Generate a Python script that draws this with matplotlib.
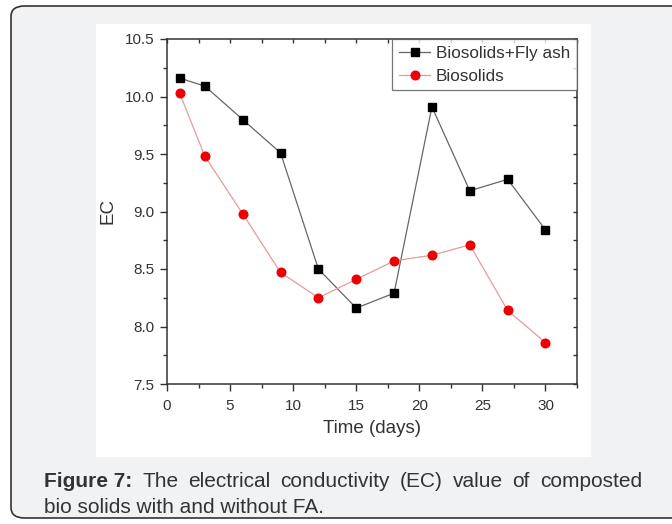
import matplotlib
matplotlib.use("Agg")
import matplotlib.pyplot as plt
from matplotlib.patches import FancyBboxPatch, Rectangle
from matplotlib.ticker import MultipleLocator

plt.rcParams['font.family'] = ['Liberation Sans', 'DejaVu Sans']

# datos
dias = [1, 3, 6, 9, 12, 15, 18, 21, 24, 27, 30]
ec_fly_ash = [10.16, 10.09, 9.80, 9.51, 8.50, 8.16, 8.29, 9.91, 9.18, 9.28, 8.84]
ec_biosolids = [10.03, 9.48, 8.98, 8.47, 8.25, 8.41, 8.57, 8.62, 8.71, 8.14, 7.86]
nombres = ["Biosolids+Fly ash", "Biosolids"]
linea1 = ["The", "electrical", "conductivity", "(EC)", "value", "of", "composted"]
linea2 = "bio solids with and without FA."

W, H = 672, 524
fig = plt.figure(figsize=(W / 100, H / 100), dpi=100)
fig.patch.set_facecolor("white")

# caja redondeada de fondo
caja = FancyBboxPatch((11 / W, 6 / H), 700 / W, 512 / H,
                      boxstyle="round,pad=0,rounding_size=0.02",
                      transform=fig.transFigure, facecolor="#f1f2f4",
                      edgecolor="#333333", linewidth=1.2, zorder=0)
fig.patches.append(caja)
# zona blanca del grafico
fig.patches.append(Rectangle((96 / W, 1 - 457 / H), 495 / W, 433 / H,
                             transform=fig.transFigure, facecolor="white",
                             edgecolor="none", zorder=1))

ax = fig.add_axes([167 / W, 1 - 384 / H, 410 / W, 345 / H])
ax.set_zorder(2)
ax.plot(dias, ec_fly_ash, color="#666666", lw=0.9, marker="s", ms=5.2,
        mfc="black", mec="black", label=nombres[0])
ax.plot(dias, ec_biosolids, color="#e89a9a", lw=0.9, marker="o", ms=6.2,
        mfc="#ee0000", mec="#ee0000", label=nombres[1])

ax.set_xlim(0, 32.5)
ax.set_ylim(7.5, 10.5)
ax.xaxis.set_major_locator(MultipleLocator(5))
ax.xaxis.set_minor_locator(MultipleLocator(2.5))
ax.yaxis.set_major_locator(MultipleLocator(0.5))
ax.yaxis.set_minor_locator(MultipleLocator(0.25))
ax.set_xticks([0, 5, 10, 15, 20, 25, 30])
ax.yaxis.set_major_formatter(matplotlib.ticker.FormatStrFormatter("%.1f"))

ax.tick_params(which="both", direction="out", colors="#333333", labelcolor="#333333",
               labelsize=11, width=1.0)
ax.tick_params(which="major", length=5, pad=4)
ax.tick_params(which="minor", length=3)
ax.tick_params(axis="x", which="major", pad=6)
for s in ax.spines.values():
    s.set_color("#333333")
    s.set_linewidth(1.1)

# ticks hacia dentro arriba y a la derecha
for lado in ["top", "right"]:
    sec = ax.secondary_xaxis("top") if lado == "top" else ax.secondary_yaxis("right")
    if lado == "top":
        sec.xaxis.set_major_locator(MultipleLocator(2.5))
    else:
        sec.yaxis.set_major_locator(MultipleLocator(0.25))
    sec.tick_params(direction="in", length=3, width=1.0, colors="#333333", labelsize=0)
    sec.tick_params(labelleft=False, labelright=False, labeltop=False, labelbottom=False)
    sec.spines[lado].set_visible(False)

ax.set_xlabel("Time (days)", fontsize=13.5, color="#333333", labelpad=5)
ax.set_ylabel("EC", fontsize=13.5, color="#333333", labelpad=6)

leg = ax.legend(loc="upper right", borderaxespad=0, fontsize=12.3, frameon=True,
                fancybox=False, edgecolor="#555555", handlelength=1.8,
                handletextpad=0.35, borderpad=0.4, labelspacing=0.45)
leg.get_frame().set_linewidth(0.9)
for t in leg.get_texts():
    t.set_color("#333333")

# pie de figura justificado
fs = 15
y1 = 1 - 487 / H
y2 = 1 - 513 / H
x_ini, x_fin = 44 / W, 642 / W
piezas = [fig.text(0, y1, "Figure 7:", fontsize=fs, fontweight="bold", color="#333333")]
for p in linea1:
    piezas.append(fig.text(0, y1, p, fontsize=fs, color="#333333"))
fig.canvas.draw()
r = fig.canvas.get_renderer()
anchos = [t.get_window_extent(r).width / W for t in piezas]
hueco = (x_fin - x_ini - sum(anchos)) / (len(piezas) - 1)
x = x_ini
for t, a in zip(piezas, anchos):
    t.set_x(x)
    x += a + hueco
fig.text(x_ini, y2, linea2, fontsize=fs, color="#333333")

fig.savefig("out.png", dpi=100)
